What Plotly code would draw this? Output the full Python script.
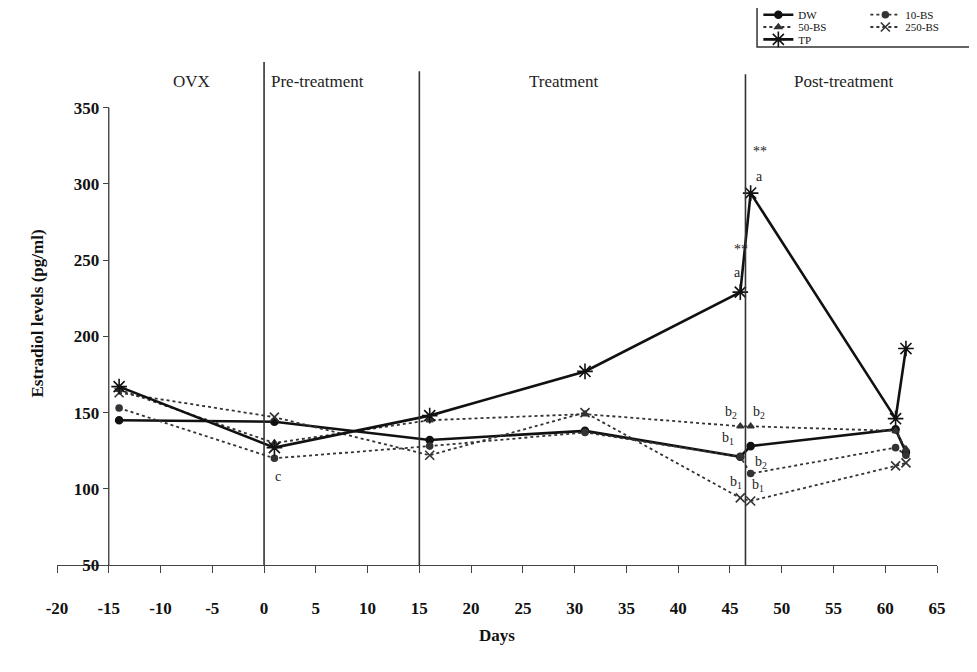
import plotly.graph_objects as go

days = [-14, 1, 16, 31, 46, 47, 61, 62]
dw = [145, 144, 132, 138, 121, 128, 139, 124]
bs10 = [153, 120, 128, 137, 121, 110, 127, 122]
bs50 = [165, 130, 145, 149, 141, 141, 138, 126]
bs250 = [163, 147, 122, 150, 94, 92, 115, 117]
tp = [167, 127, 148, 177, 229, 294, 146, 192]

x_ticks = list(range(-20, 70, 5))
y_ticks = list(range(50, 400, 50))

phase_names = ["OVX", "Pre-treatment", "Treatment", "Post-treatment"]
phase_x = [-7, 0.5, 29, 56]
phase_anchor = ["center", "left", "center", "center"]
dividers = [0, 15, 46.5]
divider_tops = [380, 374, 372]

sig_text = ["**", "a", "**", "a", "b<sub>2</sub>", "b<sub>2</sub>", "b<sub>1</sub>",
            "b<sub>2</sub>", "b<sub>1</sub>", "b<sub>1</sub>", "c"]
sig_x = [46.1, 45.7, 47.9, 47.9, 45.1, 47.8, 44.8, 48.0, 45.6, 47.7, 1.3]
sig_y = [257, 242, 321, 305, 150, 150, 133, 117, 104, 102, 108]

FONT = "Liberation Serif"
fig = go.Figure()

# name, values, dash, width, symbol, size, colour, legend row
series = [
    ("DW", dw, "solid", 2.6, "circle", 7, "#111", "legend"),
    ("10-BS", bs10, "dot", 1.8, "circle", 6, "#333", "legend"),
    ("50-BS", bs50, "dot", 1.8, "triangle-up", 6, "#333", "legend2"),
    ("250-BS", bs250, "dot", 1.8, "x-thin-open", 9, "#333", "legend2"),
    ("TP", tp, "solid", 2.6, "asterisk-open", 13, "#111", "legend3"),
]
for name, vals, dash, w, sym, sz, col, leg in series:
    fig.add_trace(go.Scatter(
        x=days, y=vals, name=name, mode="lines+markers", legend=leg,
        line=dict(color=col, width=w, dash=dash),
        marker=dict(symbol=sym, size=sz, color=col, line=dict(color=col, width=1.6)),
    ))

shapes = []
for dx, top in zip(dividers, divider_tops):
    shapes.append(dict(type="line", xref="x", yref="y", x0=dx, x1=dx, y0=50, y1=top,
                       line=dict(color="#333", width=1.6)))
# y axis line drawn at x=-15 up to 350
shapes.append(dict(type="line", xref="x", yref="y", x0=-15, x1=-15, y0=50, y1=350,
                   line=dict(color="#444", width=1.4)))
# legend frame
shapes.append(dict(type="rect", xref="paper", yref="paper", x0=0.7955, x1=1.043,
                   y0=1.030, y1=1.109, line=dict(color="#333", width=1.5),
                   fillcolor="rgba(0,0,0,0)", layer="below"))

annotations = []
for name, px, anc in zip(phase_names, phase_x, phase_anchor):
    annotations.append(dict(x=px, y=367, xref="x", yref="y", text=name, showarrow=False,
                            xanchor=anc, font=dict(family=FONT, size=17, color="#222")))
for t, sx, sy in zip(sig_text, sig_x, sig_y):
    annotations.append(dict(x=sx, y=sy, xref="x", yref="y", text=t, showarrow=False,
                            font=dict(family=FONT, size=14, color="#222")))

def leg(yc):
    return dict(orientation="h", x=0.797, xanchor="left", y=yc, yanchor="middle",
                entrywidth=62, entrywidthmode="pixels",
                bgcolor="rgba(0,0,0,0)", borderwidth=0,
                font=dict(family=FONT, size=11, color="#111"),
                itemsizing="trace")

fig.update_layout(
    width=969, height=664,
    margin=dict(l=49, r=40, t=54, b=107, autoexpand=False),
    paper_bgcolor="white", plot_bgcolor="white",
    font=dict(family=FONT, color="#111"),
    shapes=shapes, annotations=annotations,
    showlegend=True,
    legend=leg(1.094), legend2=leg(1.0696), legend3=leg(1.045),
    xaxis=dict(range=[-20, 65], tickvals=x_ticks, ticktext=[str(v) for v in x_ticks],
               showgrid=False, zeroline=False, showline=True, linecolor="#444", linewidth=1.4,
               ticks="outside", ticklen=7, tickcolor="#444", ticklabelstandoff=20,
               tickfont=dict(family=FONT, size=17, color="#111", weight="bold"),
               title=dict(text="<b>Days</b>", font=dict(family=FONT, size=17), standoff=12)),
    yaxis=dict(range=[50, 380], tickvals=y_ticks, anchor="free", position=5/85,
               showgrid=False, zeroline=False, showline=False,
               ticks="outside", ticklen=6, tickcolor="#444",
               tickfont=dict(family=FONT, size=17, color="#111", weight="bold"),
               title=dict(text="<b>Estradiol levels (pg/ml)</b>",
                          font=dict(family=FONT, size=17), standoff=24)),
)

fig.write_html("out.html")
